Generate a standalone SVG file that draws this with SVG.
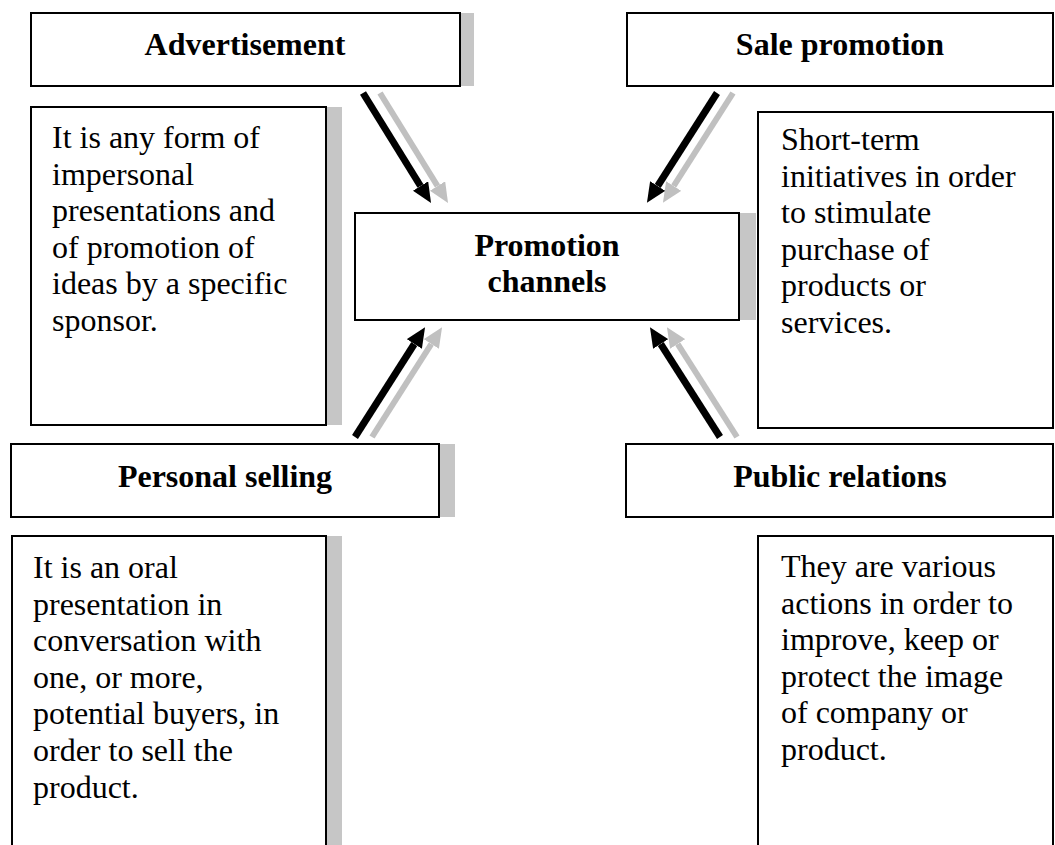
<svg xmlns="http://www.w3.org/2000/svg" width="1055" height="845" viewBox="0 0 1055 845">
<defs>
<style>
.box{fill:#fff;stroke:#000;stroke-width:2}
.sh{fill:#c6c6c6}
.t{font-family:"Liberation Serif","Times New Roman",serif;font-size:32px;fill:#000}
.b{font-weight:bold}
.blk{stroke:#000;stroke-width:7;fill:none}
.gry{stroke:#c0c0c0;stroke-width:6;fill:none}
</style>
<marker id="hb" viewBox="0 0 20 18" refX="0" refY="9" markerWidth="20" markerHeight="18" markerUnits="userSpaceOnUse" orient="auto"><path d="M0,0 L20,9 L0,18 z" fill="#000"/></marker>
<marker id="hg" viewBox="0 0 20 18" refX="0" refY="9" markerWidth="20" markerHeight="18" markerUnits="userSpaceOnUse" orient="auto"><path d="M0,0 L20,9 L0,18 z" fill="#c0c0c0"/></marker>
</defs>
<rect width="1055" height="845" fill="#fff"/>

<g id="advertisement">
<rect class="sh" x="460" y="13" width="14" height="73"/>
<rect class="box" x="31" y="13" width="429" height="73"/>
<text class="t b" x="245" y="55" text-anchor="middle">Advertisement</text>
</g>

<g id="sale-promotion">
<rect class="box" x="627" y="13" width="426" height="73"/>
<text class="t b" x="840" y="55" text-anchor="middle">Sale promotion</text>
</g>

<g id="advertisement-desc">
<rect class="sh" x="326" y="107" width="16" height="318"/>
<rect class="box" x="31" y="107" width="295" height="318"/>
<text class="t" x="52" y="148">
<tspan x="52" y="148">It is any form of</tspan>
<tspan x="52" dy="36.5">impersonal</tspan>
<tspan x="52" dy="36.5">presentations and</tspan>
<tspan x="52" dy="36.5">of promotion of</tspan>
<tspan x="52" dy="36.5">ideas by a specific</tspan>
<tspan x="52" dy="36.5">sponsor.</tspan>
</text>
</g>

<g id="sale-promotion-desc">
<rect class="box" x="758" y="112" width="295" height="316"/>
<text class="t" x="781" y="150">
<tspan x="781" y="150">Short-term</tspan>
<tspan x="781" dy="36.6">initiatives in order</tspan>
<tspan x="781" dy="36.6">to stimulate</tspan>
<tspan x="781" dy="36.6">purchase of</tspan>
<tspan x="781" dy="36.6">products or</tspan>
<tspan x="781" dy="36.6">services.</tspan>
</text>
</g>

<g id="promotion-channels">
<rect class="sh" x="739" y="213" width="17" height="107"/>
<rect class="box" x="355" y="213" width="384" height="107"/>
<text class="t b" x="547" y="256" text-anchor="middle">Promotion</text>
<text class="t b" x="547" y="292" text-anchor="middle">channels</text>
</g>

<g id="personal-selling">
<rect class="sh" x="439" y="444" width="16" height="73"/>
<rect class="box" x="11" y="444" width="428" height="73"/>
<text class="t b" x="225" y="487" text-anchor="middle">Personal selling</text>
</g>

<g id="public-relations">
<rect class="box" x="626" y="444" width="427" height="73"/>
<text class="t b" x="840" y="487" text-anchor="middle">Public relations</text>
</g>

<g id="personal-selling-desc">
<rect class="sh" x="326" y="536" width="16" height="320"/>
<rect class="box" x="12" y="536" width="314" height="320"/>
<text class="t" x="33" y="578">
<tspan x="33" y="578">It is an oral</tspan>
<tspan x="33" dy="36.6">presentation in</tspan>
<tspan x="33" dy="36.6">conversation with</tspan>
<tspan x="33" dy="36.6">one, or more,</tspan>
<tspan x="33" dy="36.6">potential buyers, in</tspan>
<tspan x="33" dy="36.6">order to sell the</tspan>
<tspan x="33" dy="36.6">product.</tspan>
</text>
</g>

<g id="public-relations-desc">
<rect class="box" x="758" y="536" width="295" height="320"/>
<text class="t" x="781" y="577">
<tspan x="781" y="577">They are various</tspan>
<tspan x="781" dy="36.6">actions in order to</tspan>
<tspan x="781" dy="36.6">improve, keep or</tspan>
<tspan x="781" dy="36.6">protect the image</tspan>
<tspan x="781" dy="36.6">of company or</tspan>
<tspan x="781" dy="36.6">product.</tspan>
</text>
</g>

<g id="connectors">
<line class="gry" x1="380" y1="93" x2="437.5" y2="186" marker-end="url(#hg)"/>
<line class="blk" x1="363" y1="93" x2="420.5" y2="186" marker-end="url(#hb)"/>
<line class="gry" x1="733" y1="93" x2="673.7" y2="186" marker-end="url(#hg)"/>
<line class="blk" x1="717" y1="93" x2="657.7" y2="186" marker-end="url(#hb)"/>
<line class="gry" x1="372" y1="437" x2="431.3" y2="344" marker-end="url(#hg)"/>
<line class="blk" x1="355" y1="437" x2="414.3" y2="344" marker-end="url(#hb)"/>
<line class="gry" x1="737" y1="437" x2="677.7" y2="344" marker-end="url(#hg)"/>
<line class="blk" x1="720" y1="437" x2="660.7" y2="344" marker-end="url(#hb)"/>
</g>
</svg>
